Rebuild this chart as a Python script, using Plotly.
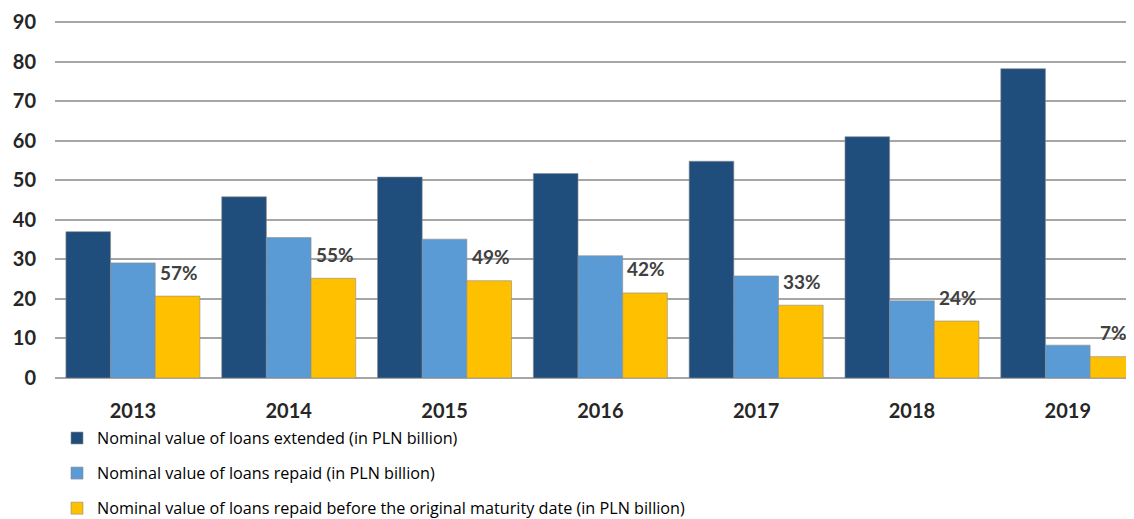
import plotly.graph_objects as go

years = ["2013", "2014", "2015", "2016", "2017", "2018", "2019"]
extended = [37.0, 45.8, 50.8, 51.7, 54.8, 61.0, 78.2]
repaid = [29.1, 35.5, 35.1, 30.9, 25.8, 19.5, 8.3]
repaid_early = [20.7, 25.2, 24.6, 21.5, 18.4, 14.4, 5.4]
early_share = ["57%", "55%", "49%", "42%", "33%", "24%", "7%"]

names = [
    "Nominal value of loans extended (in PLN billion)",
    "Nominal value of loans repaid (in PLN billion)",
    "Nominal value of loans repaid before the original maturity date (in PLN billion)",
]
colors = ["#1f4e7d", "#5b9bd5", "#ffc000"]

FONT = "Lato"
# page body has an 8px margin, so the figure is sized to fill the rest of the window
W, H = 1126, 511
T = 12
PLOT_BOTTOM = 370
dom0 = (H - PLOT_BOTTOM) / (H - T)

fig = go.Figure()
for i, (vals, nm, col) in enumerate(zip([extended, repaid, repaid_early], names, colors)):
    fig.add_trace(go.Bar(
        x=years, y=vals, name=nm,
        marker=dict(color=col, line=dict(color="#8c8c8c", width=0.6)),
        legendgroup=str(i),
    ))

for idx, (v, t) in enumerate(zip(repaid_early, early_share)):
    fig.add_annotation(
        x=idx, y=v, text="<b>" + t + "</b>", showarrow=False, xref="x", yref="y",
        xshift=46, yshift=24,
        font=dict(family=FONT, size=19, color="#404040"),
    )

fig.update_layout(
    width=W, height=H,
    margin=dict(l=47, r=0, t=T, b=0, autoexpand=False),
    paper_bgcolor="white", plot_bgcolor="white",
    barmode="group", bargap=0.14, bargroupgap=0,
    font=dict(family=FONT, color="#262626"),
    showlegend=True,
    legend=dict(
        x=2 / 1079, xanchor="left", y=(H - 413) / (H - T), yanchor="top",
        orientation="v", traceorder="grouped", tracegroupgap=11,
        font=dict(family="Open Sans", size=16.2, color="#000000"),
        bgcolor="rgba(0,0,0,0)",
    ),
    xaxis=dict(
        type="category", range=[-0.5, 6.425], automargin=False,
        showgrid=False, showline=False, ticks="",
        tickfont=dict(family=FONT, size=20, color="#262626", weight="bold"),
        ticklabelstandoff=19,
    ),
    yaxis=dict(
        domain=[dom0, 1], automargin=False,
        range=[0, 90.5], tickvals=list(range(0, 91, 10)),
        showgrid=True, gridcolor="#a6a6a6", gridwidth=1.5,
        zeroline=True, zerolinecolor="#a6a6a6", zerolinewidth=1.5,
        showline=False, ticks="",
        tickfont=dict(family=FONT, size=20, color="#262626", weight="bold"),
        ticklabelstandoff=18,
    ),
)

fig.write_html("out.html")
